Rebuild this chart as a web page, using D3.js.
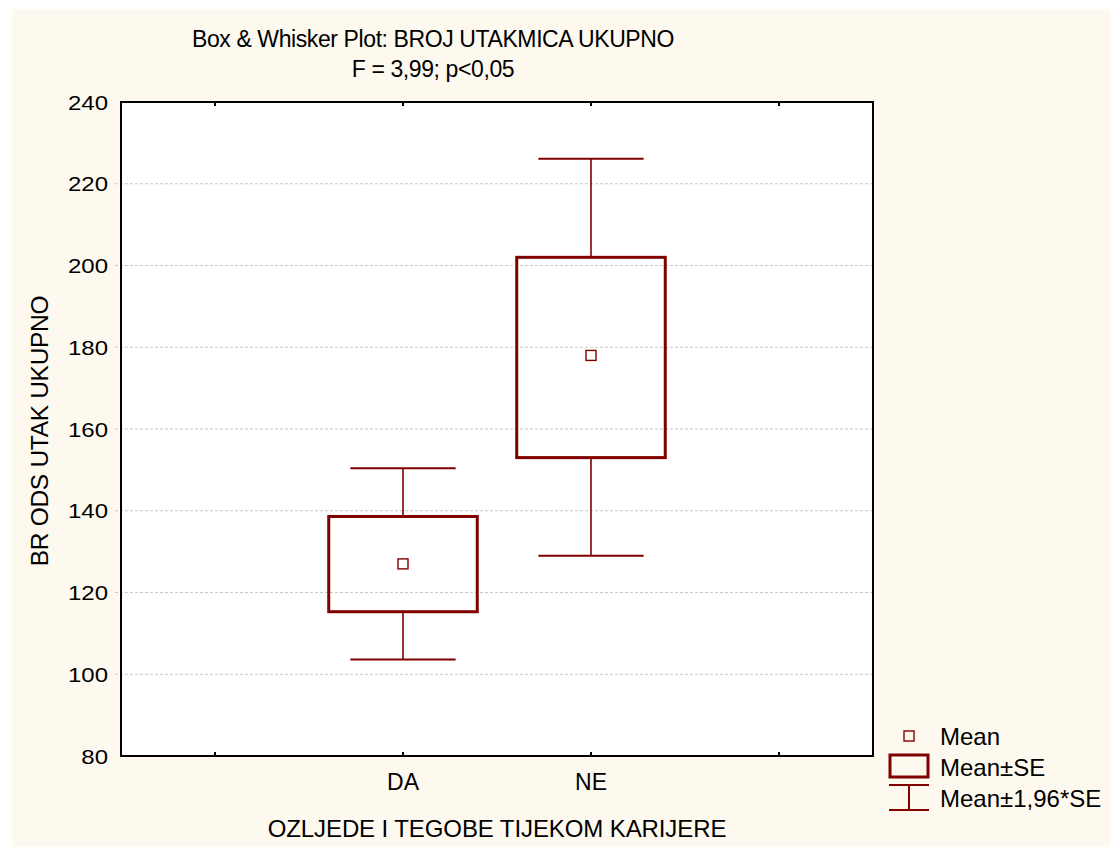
<!DOCTYPE html>
<html>
<head>
<meta charset="utf-8">
<script src="https://cdn.jsdelivr.net/npm/d3@7"></script>
<style>
  body { margin: 0; background: #fff; }
  text { font-family: Arial, "Liberation Sans", sans-serif; fill: #000; }
</style>
</head>
<body>
<svg id="chart"></svg>
<script>
// data
var categories = ["DA", "NE"];
var slots = ["l", "DA", "NE", "r"];          // empty slot on each side
var means = [127.0, 178.0];
var seLow = [115.3, 153.0];
var seHigh = [138.6, 202.0];
var ciLow = [103.6, 129.0];
var ciHigh = [150.4, 226.1];
var yTicks = [80, 100, 120, 140, 160, 180, 200, 220, 240];
var legendLabels = ["Mean", "Mean\u00b1SE", "Mean\u00b11,96*SE"];

var width = 1111;
var height = 848;
var plot = { left: 121, top: 102, right: 873, bottom: 756 };
var red = "#800000";

var svg = d3.select("#chart")
  .attr("width", width)
  .attr("height", height);

// cream page with thin white margin
svg.append("rect")
  .attr("x", 12).attr("y", 9)
  .attr("width", width - 12).attr("height", 838)
  .attr("fill", "#fdf9ef");

svg.append("rect")
  .attr("x", plot.left).attr("y", plot.top)
  .attr("width", plot.right - plot.left).attr("height", plot.bottom - plot.top)
  .attr("fill", "#fff");

var x = d3.scaleBand().domain(slots).range([plot.left, plot.right]).padding(0);
var y = d3.scaleLinear().domain([80, 240]).range([plot.bottom, plot.top]);
var bw = x.bandwidth();
var cx = (d) => x(d) + bw / 2;

// grid
svg.append("g")
  .selectAll("line")
  .data(yTicks.filter((t) => t > 80 && t < 240))
  .enter().append("line")
    .attr("x1", plot.left - 6).attr("x2", plot.right)
    .attr("y1", (d) => y(d)).attr("y2", (d) => y(d))
    .attr("stroke", "#c8c8c8")
    .attr("stroke-width", 1)
    .attr("stroke-dasharray", "3,2");

// y axis labels
var yAxis = svg.append("g")
  .attr("transform", `translate(${plot.left},0)`)
  .call(d3.axisLeft(y).tickValues(yTicks).tickSize(0).tickPadding(0));
yAxis.select(".domain").remove();
yAxis.selectAll("text")
  .attr("x", null).attr("dy", null)
  .attr("y", 7)
  .attr("font-size", 20)
  .attr("transform", "translate(-13,0) scale(1.2,1)");

// x axis, ticks inward on top and bottom
var xFmt = (d) => categories.indexOf(d) >= 0 ? d : "";
var xAxis = svg.append("g")
  .attr("transform", `translate(0,${plot.bottom})`)
  .call(d3.axisBottom(x).tickFormat(xFmt).tickSize(-4));
xAxis.select(".domain").remove();
xAxis.selectAll("line").attr("stroke", "#000").attr("stroke-width", 2);
xAxis.selectAll("text")
  .attr("dy", null)
  .attr("y", 34)
  .attr("font-size", 23);

var xTop = svg.append("g")
  .attr("transform", `translate(0,${plot.top})`)
  .call(d3.axisTop(x).tickFormat("").tickSize(-4));
xTop.select(".domain").remove();
xTop.selectAll("line").attr("stroke", "#000").attr("stroke-width", 2);

// frame
svg.append("rect")
  .attr("x", plot.left).attr("y", plot.top)
  .attr("width", plot.right - plot.left).attr("height", plot.bottom - plot.top)
  .attr("fill", "none")
  .attr("stroke", "#000")
  .attr("stroke-width", 2);

// boxes and whiskers
var groups = svg.append("g")
  .selectAll("g")
  .data(categories)
  .enter().append("g");

var capW = bw * 0.56;
var boxW = bw * 0.79;

groups.append("line")
  .attr("x1", (d) => cx(d)).attr("x2", (d) => cx(d))
  .attr("y1", (d, i) => y(ciHigh[i])).attr("y2", (d, i) => y(seHigh[i]))
  .attr("stroke", red).attr("stroke-width", 1.6);
groups.append("line")
  .attr("x1", (d) => cx(d)).attr("x2", (d) => cx(d))
  .attr("y1", (d, i) => y(seLow[i])).attr("y2", (d, i) => y(ciLow[i]))
  .attr("stroke", red).attr("stroke-width", 1.6);
groups.append("line")
  .attr("x1", (d) => cx(d) - capW / 2).attr("x2", (d) => cx(d) + capW / 2)
  .attr("y1", (d, i) => y(ciHigh[i])).attr("y2", (d, i) => y(ciHigh[i]))
  .attr("stroke", red).attr("stroke-width", 2);
groups.append("line")
  .attr("x1", (d) => cx(d) - capW / 2).attr("x2", (d) => cx(d) + capW / 2)
  .attr("y1", (d, i) => y(ciLow[i])).attr("y2", (d, i) => y(ciLow[i]))
  .attr("stroke", red).attr("stroke-width", 2);
groups.append("rect")
  .attr("x", (d) => cx(d) - boxW / 2)
  .attr("y", (d, i) => y(seHigh[i]))
  .attr("width", boxW)
  .attr("height", (d, i) => y(seLow[i]) - y(seHigh[i]))
  .attr("fill", "none")
  .attr("stroke", red).attr("stroke-width", 3);
groups.append("rect")
  .attr("x", (d) => cx(d) - 5)
  .attr("y", (d, i) => y(means[i]) - 5)
  .attr("width", 10).attr("height", 10)
  .attr("fill", "none")
  .attr("stroke", red).attr("stroke-width", 1.4);

// titles
svg.append("text")
  .attr("x", 433).attr("y", 47)
  .attr("text-anchor", "middle")
  .attr("font-size", 23)
  .attr("letter-spacing", -0.4)
  .text("Box & Whisker Plot: BROJ UTAKMICA UKUPNO");
svg.append("text")
  .attr("x", 433).attr("y", 77)
  .attr("text-anchor", "middle")
  .attr("font-size", 23)
  .attr("letter-spacing", -0.4)
  .text("F = 3,99; p<0,05");

svg.append("text")
  .attr("x", (plot.left + plot.right) / 2).attr("y", 837)
  .attr("text-anchor", "middle")
  .attr("font-size", 24)
  .attr("letter-spacing", -0.1)
  .text("OZLJEDE I TEGOBE TIJEKOM KARIJERE");

svg.append("text")
  .attr("transform", `translate(48,${(plot.top + plot.bottom) / 2 + 2}) rotate(-90)`)
  .attr("text-anchor", "middle")
  .attr("font-size", 24.5)
  .attr("letter-spacing", -0.3)
  .text("BR ODS UTAK UKUPNO");

// legend
var lg = svg.append("g");
lg.append("rect")
  .attr("x", 904).attr("y", 731).attr("width", 10).attr("height", 10)
  .attr("fill", "none").attr("stroke", red).attr("stroke-width", 1.4);
lg.append("rect")
  .attr("x", 890).attr("y", 755).attr("width", 38).attr("height", 22)
  .attr("fill", "none").attr("stroke", red).attr("stroke-width", 3);
lg.append("line").attr("x1", 889).attr("x2", 929).attr("y1", 785).attr("y2", 785)
  .attr("stroke", red).attr("stroke-width", 2);
lg.append("line").attr("x1", 889).attr("x2", 929).attr("y1", 810).attr("y2", 810)
  .attr("stroke", red).attr("stroke-width", 2);
lg.append("line").attr("x1", 909).attr("x2", 909).attr("y1", 785).attr("y2", 810)
  .attr("stroke", red).attr("stroke-width", 2);
lg.selectAll("text")
  .data(legendLabels)
  .enter().append("text")
    .attr("x", 940)
    .attr("y", (d, i) => 745 + i * 31)
    .attr("font-size", 24)
    .attr("letter-spacing", 0)
    .text((d) => d);
</script>
</body>
</html>
